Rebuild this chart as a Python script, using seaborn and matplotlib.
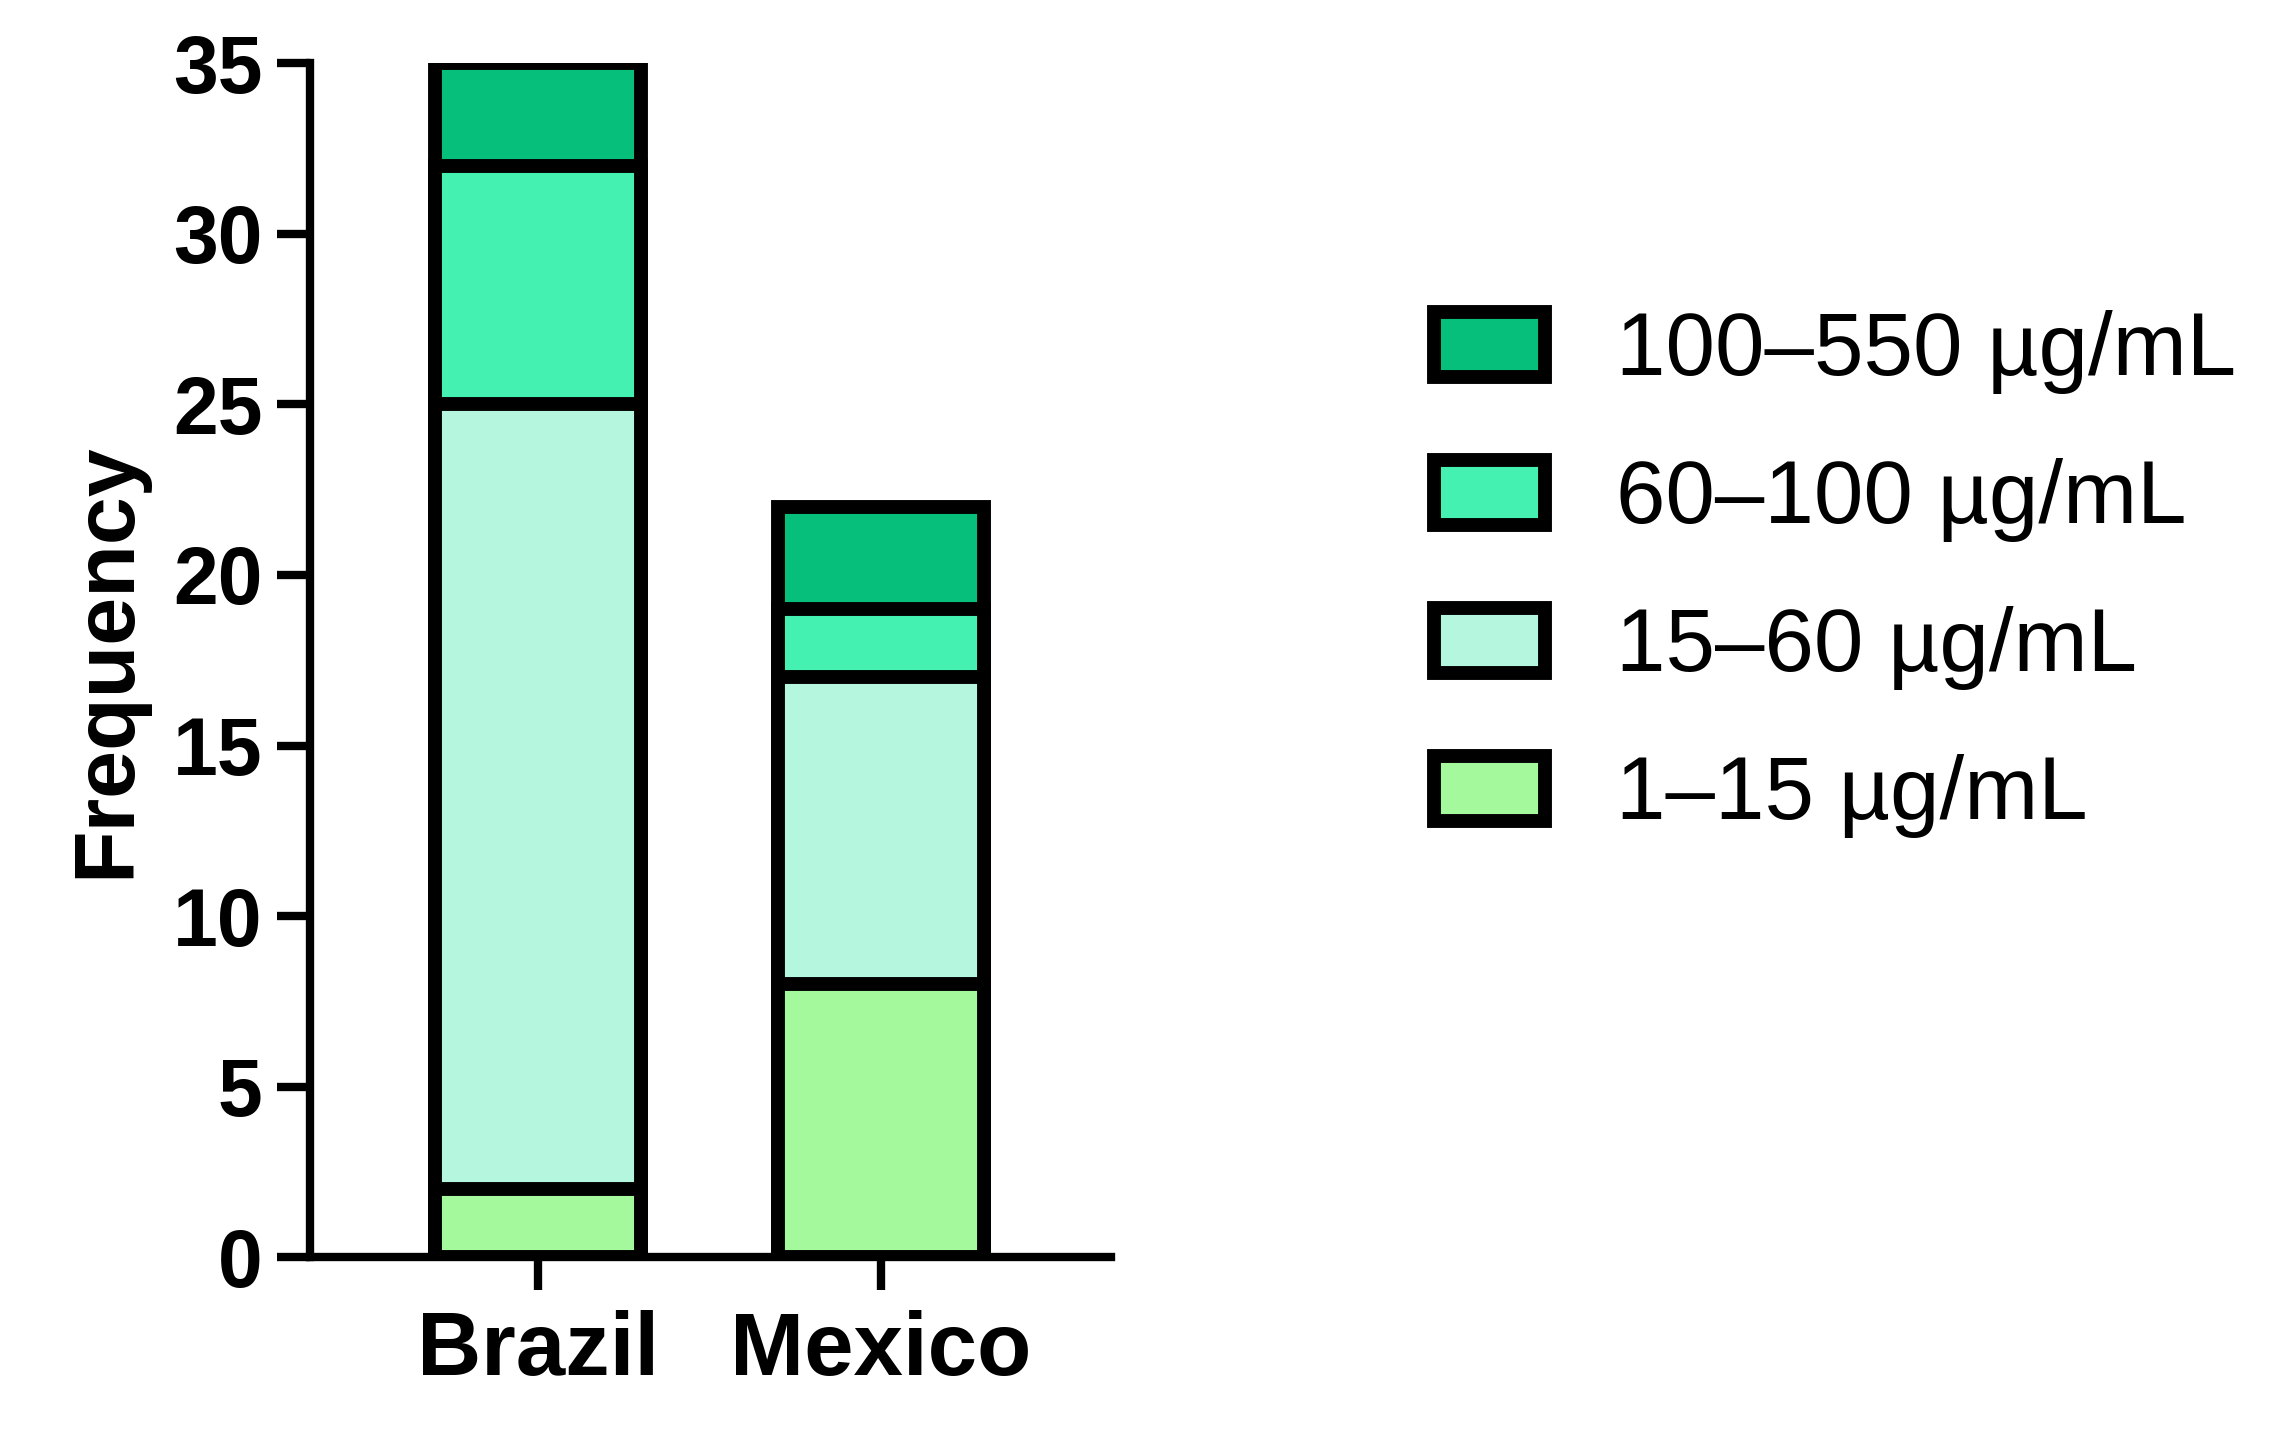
import matplotlib
matplotlib.use("Agg")
import matplotlib.pyplot as plt
import seaborn as sns
import numpy as np
import pandas as pd
from matplotlib.patches import Patch

countries = ["Brazil", "Mexico"]
ranges = ["1–15 µg/mL", "15–60 µg/mL", "60–100 µg/mL", "100–550 µg/mL"]
vals_1_15 = [2, 8]
vals_15_60 = [23, 9]
vals_60_100 = [7, 2]
vals_100_550 = [3, 3]
colors = ["#A3F99B", "#B4F6DE", "#45F1B1", "#06BF7B"]

sns.set_style("ticks")
plt.rcParams['font.family'] = ['Arial', 'Liberation Sans', 'DejaVu Sans']
plt.rcParams['text.color'] = 'black'
plt.rcParams['axes.labelcolor'] = 'black'

fig = plt.figure(figsize=(22.76, 14.4), dpi=100)
ax = fig.add_axes([0.136, 0.127, 0.352, 0.829])

layers = [vals_1_15, vals_15_60, vals_60_100, vals_100_550]
cum = np.cumsum(np.array(layers), axis=0)
for i in range(len(layers) - 1, -1, -1):
    df = pd.DataFrame({"country": countries, "value": cum[i]})
    sns.barplot(data=df, x="country", y="value", color=colors[i], width=0.6,
                edgecolor="black", linewidth=10, ax=ax, saturation=1)

ax.set_xlim(-0.665, 1.67)
ax.set_ylim(0, 35)
ax.set_yticks(range(0, 36, 5))
ax.set_xlabel("")
ax.set_ylabel("Frequency", fontsize=62, fontweight="bold", labelpad=18)
for s in ["top", "right"]:
    ax.spines[s].set_visible(False)
for s in ["left", "bottom"]:
    ax.spines[s].set_linewidth(6)
    ax.spines[s].set_color("black")
ax.tick_params(axis="both", width=6, length=24, labelsize=58, pad=10, colors="black")
ax.tick_params(axis="x", labelsize=64, pad=14)
for t in ax.get_xticklabels() + ax.get_yticklabels():
    t.set_fontweight("bold")

handles = [Patch(facecolor=colors[i], edgecolor="black", linewidth=10, label=ranges[i])
           for i in range(3, -1, -1)]
fig.legend(handles=handles, loc="upper left", bbox_to_anchor=(0.595, 0.84),
           frameon=False, fontsize=64, handlelength=1.25, handleheight=0.75,
           labelspacing=0.72, handletextpad=0.8)

fig.savefig("out.png", dpi=100)
